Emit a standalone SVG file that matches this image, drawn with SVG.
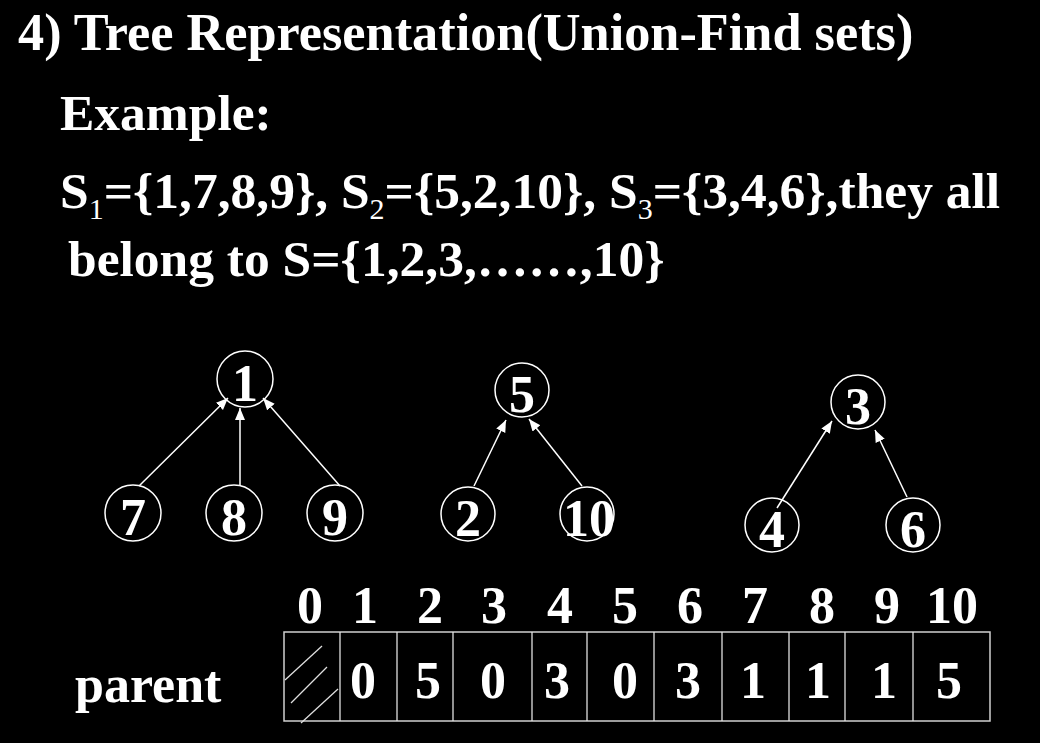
<svg xmlns="http://www.w3.org/2000/svg" width="1040" height="743" viewBox="0 0 1040 743">
<style>
.t{font-family:"Liberation Serif","Times New Roman",serif;font-weight:bold;fill:#fff;font-size:52px}
.t2{font-size:51.5px}
.sub{font-weight:normal;font-size:30px}
.n{fill:none;stroke:#fff;stroke-width:1.5}
.nl{font-family:"Liberation Serif","Times New Roman",serif;font-weight:bold;fill:#fff;font-size:52px;text-anchor:middle}
.e{stroke:#fff;stroke-width:1.5;fill:none;marker-end:url(#ah)}
.cell{fill:none;stroke:#d0d0d0;stroke-width:1.5}
.hatch{stroke:#e0e0e0;stroke-width:1.3}
.c{font-family:"Liberation Serif","Times New Roman",serif;font-weight:bold;fill:#fff;font-size:52px;text-anchor:middle}
</style>
<defs>
<marker id="ah" markerUnits="userSpaceOnUse" markerWidth="14" markerHeight="12" refX="12" refY="5" orient="auto">
<path d="M0,0 L12,5 L0,10 Z" fill="#fff"/>
</marker>
</defs>
<rect width="1040" height="743" fill="#000"/>
<text class="t" x="18" y="50" style="font-size:52.3px">4) Tree Representation(Union-Find sets)</text>
<text class="t t2" x="60" y="130">Example:</text>
<text class="t t2" x="60" y="208">S<tspan class="sub" dy="11">1</tspan><tspan dy="-11">={1,7,8,9}, S</tspan><tspan class="sub" dy="11">2</tspan><tspan dy="-11">={5,2,10}, S</tspan><tspan class="sub" dy="11">3</tspan><tspan dy="-11">={3,4,6},they all</tspan></text>
<text class="t t2" x="68" y="276">belong to S={1,2,3,……,10}</text>

<g id="connectors">
<line class="e" x1="139" y1="486" x2="228" y2="398"/>
<line class="e" x1="240" y1="486" x2="240" y2="408"/>
<line class="e" x1="340" y1="486" x2="263" y2="398"/>
<line class="e" x1="474" y1="486" x2="506" y2="420"/>
<line class="e" x1="582" y1="486" x2="529" y2="419"/>
<line class="e" x1="777" y1="508" x2="832" y2="421"/>
<line class="e" x1="907" y1="497" x2="875" y2="430"/>
</g>

<g id="node-1"><circle class="n" cx="245" cy="379" r="28"/><text class="nl" x="245" y="401">1</text></g>
<g id="node-7"><circle class="n" cx="133" cy="513" r="28"/><text class="nl" x="133" y="535">7</text></g>
<g id="node-8"><circle class="n" cx="234" cy="513" r="28"/><text class="nl" x="234" y="535">8</text></g>
<g id="node-9"><circle class="n" cx="335" cy="513" r="28"/><text class="nl" x="335" y="535">9</text></g>
<g id="node-5"><circle class="n" cx="522" cy="390" r="27"/><text class="nl" x="522" y="412">5</text></g>
<g id="node-2"><circle class="n" cx="468" cy="514" r="27"/><text class="nl" x="468" y="536">2</text></g>
<g id="node-10"><circle class="n" cx="587" cy="514" r="27"/><text class="nl" x="589" y="536">10</text></g>
<g id="node-3"><circle class="n" cx="858" cy="402" r="27"/><text class="nl" x="858" y="424">3</text></g>
<g id="node-4"><circle class="n" cx="772" cy="525" r="27"/><text class="nl" x="772" y="547">4</text></g>
<g id="node-6"><circle class="n" cx="913" cy="525" r="27"/><text class="nl" x="913" y="547">6</text></g>

<g id="table">
<g class="c">
<text x="310" y="623">0</text><text x="365" y="623">1</text><text x="430" y="623">2</text><text x="494" y="623">3</text><text x="560" y="623">4</text><text x="625" y="623">5</text><text x="690" y="623">6</text><text x="755" y="623">7</text><text x="822" y="623">8</text><text x="887" y="623">9</text><text x="952" y="623">10</text>
</g>
<rect class="cell" x="284" y="632" width="706" height="89"/>
<g class="hatch">
<line x1="340" y1="632" x2="340" y2="721"/><line x1="397" y1="632" x2="397" y2="721"/><line x1="453" y1="632" x2="453" y2="721"/><line x1="532" y1="632" x2="532" y2="721"/><line x1="587" y1="632" x2="587" y2="721"/><line x1="654" y1="632" x2="654" y2="721"/><line x1="722" y1="632" x2="722" y2="721"/><line x1="789" y1="632" x2="789" y2="721"/><line x1="845" y1="632" x2="845" y2="721"/><line x1="913" y1="632" x2="913" y2="721"/>
</g>
<g class="hatch">
<line x1="285" y1="680" x2="322" y2="646"/><line x1="291" y1="703" x2="327" y2="667"/><line x1="301" y1="723" x2="338" y2="689"/>
</g>
<g class="c">
<text x="363" y="698">0</text><text x="428" y="698">5</text><text x="493" y="698">0</text><text x="557" y="698">3</text><text x="625" y="698">0</text><text x="688" y="698">3</text><text x="753" y="698">1</text><text x="818" y="698">1</text><text x="884" y="698">1</text><text x="949" y="698">5</text>
</g>
<text class="t" x="75" y="702">parent</text>
</g>
</svg>
